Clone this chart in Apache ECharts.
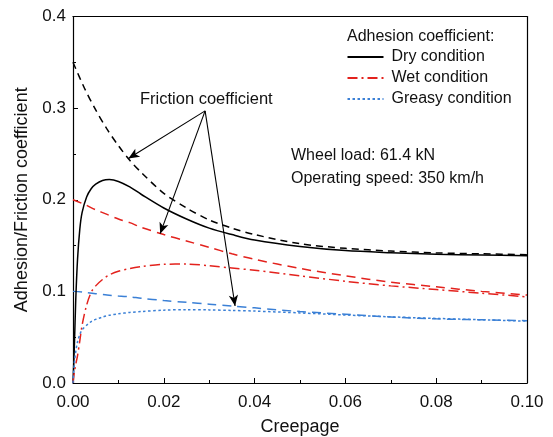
<!DOCTYPE html>
<html>
<head>
<meta charset="utf-8">
<script src="https://cdn.jsdelivr.net/npm/echarts@6/dist/echarts.min.js"></script>
<style>
html,body{margin:0;padding:0;background:#fff;}
#chart{width:553px;height:437px;}
</style>
</head>
<body>
<div id="chart"></div>
<script>
// ---- Data ----
const creepageFriction = [0, 0.0025, 0.005, 0.0075, 0.01, 0.0125, 0.015, 0.02, 0.025, 0.03, 0.035, 0.04, 0.05, 0.06, 0.07, 0.08, 0.09, 0.1];
const dryFriction    = [0.350, 0.322, 0.298, 0.277, 0.259, 0.243, 0.230, 0.207, 0.191, 0.178, 0.169, 0.162, 0.152, 0.147, 0.144, 0.142, 0.141, 0.140];
const wetFriction    = [0.200, 0.195, 0.189, 0.184, 0.179, 0.175, 0.170, 0.162, 0.155, 0.148, 0.141, 0.135, 0.125, 0.117, 0.110, 0.105, 0.100, 0.096];
const greasyFriction = [0.100, 0.099, 0.0975, 0.096, 0.095, 0.094, 0.0925, 0.090, 0.088, 0.086, 0.084, 0.082, 0.078, 0.075, 0.072, 0.070, 0.069, 0.068];

const creepageAdhesion = [0, 0.0003, 0.0006, 0.001, 0.0015, 0.002, 0.003, 0.004, 0.005, 0.0065, 0.008, 0.01, 0.0125, 0.015, 0.02, 0.025, 0.03, 0.035, 0.04, 0.05, 0.06, 0.07, 0.08, 0.09, 0.1];
const dryAdhesion    = [0, 0.040, 0.090, 0.135, 0.168, 0.186, 0.203, 0.212, 0.217, 0.221, 0.222, 0.220, 0.214, 0.206, 0.191, 0.179, 0.169, 0.162, 0.156, 0.149, 0.1445, 0.1422, 0.1405, 0.1397, 0.139];
const wetAdhesion    = [0, 0.012, 0.020, 0.030, 0.046, 0.063, 0.085, 0.099, 0.106, 0.113, 0.118, 0.122, 0.125, 0.127, 0.1295, 0.1298, 0.128, 0.1255, 0.123, 0.117, 0.111, 0.106, 0.102, 0.098, 0.094];
const greasyAdhesion = [0, 0.022, 0.034, 0.045, 0.053, 0.058, 0.063, 0.067, 0.0695, 0.072, 0.074, 0.0755, 0.077, 0.078, 0.0795, 0.080, 0.0798, 0.0792, 0.0785, 0.0765, 0.0742, 0.0722, 0.0705, 0.069, 0.0675];

const legendNames = ['Dry condition', 'Wet condition', 'Greasy condition'];
const xTickLabels = ['0.00', '0.02', '0.04', '0.06', '0.08', '0.10'];
const yTickLabels = ['0.0', '0.1', '0.2', '0.3', '0.4'];

// annotation arrows: from apex to friction curves (data coords)
const arrowFrom = [0.0291, 0.297];
const arrowTargets = [[0.0122, 0.245], [0.0192, 0.163], [0.0357, 0.084]];

// ---- Chart ----
const FONT = 'Liberation Sans, Arial, sans-serif';
const TXT = '#111';
const RED = '#e3221d';
const BLUE = '#3b80d6';

const pairs = (xs, ys) => xs.map((x, i) => [x, ys[i]]);

const chart = echarts.init(document.getElementById('chart'), null, {renderer: 'canvas'});

function lineSeries(name, xs, ys, color, type, extra) {
  return Object.assign({
    name: name,
    type: 'line',
    data: pairs(xs, ys),
    showSymbol: false,
    symbol: 'none',
    symbolSize: 0,
    smooth: 0.3,
    lineStyle: {color: color, width: 1.5, type: type},
    itemStyle: {color: color},
    emphasis: {disabled: true},
    animation: false,
    z: 3
  }, extra || {});
}

const option = {
  animation: false,
  backgroundColor: '#fff',
  textStyle: {fontFamily: FONT, color: TXT},
  grid: {left: 73, right: 26, top: 16.5, bottom: 54, containLabel: false, outerBoundsMode: 'none'},
  legend: {
    data: legendNames,
    orient: 'vertical',
    left: 346.5,
    top: 49,
    padding: 0,
    itemWidth: 36,
    itemHeight: 16,
    itemGap: 5,
    selectedMode: false,
    itemStyle: {opacity: 0},
    textStyle: {fontFamily: FONT, fontSize: 16, color: TXT, lineHeight: 16, padding: [0, 0, 0, 3]}
  },
  xAxis: [{
    type: 'value',
    min: 0, max: 0.1, interval: 0.02,
    name: 'Creepage',
    nameLocation: 'middle',
    nameGap: 35,
    nameTextStyle: {fontFamily: FONT, fontSize: 18, color: TXT},
    axisLine: {show: true, onZero: false, lineStyle: {color: '#000', width: 1.2}},
    axisTick: {show: true, inside: true, length: 5, lineStyle: {color: '#000', width: 1}},
    minorTick: {show: true, splitNumber: 2, length: 3, lineStyle: {color: '#000', width: 1}},
    axisLabel: {
      margin: 11, fontFamily: FONT, fontSize: 17, color: TXT,
      formatter: v => xTickLabels[Math.round(v / 0.02)]
    },
    splitLine: {show: false}
  }, {
    type: 'value', position: 'top', min: 0, max: 0.1,
    axisLine: {show: true, onZero: false, lineStyle: {color: '#000', width: 1.2}},
    axisTick: {show: false}, axisLabel: {show: false}, splitLine: {show: false}
  }],
  yAxis: [{
    type: 'value',
    min: 0, max: 0.4, interval: 0.1,
    name: 'Adhesion/Friction coefficient',
    nameLocation: 'middle',
    nameGap: 41,
    nameTextStyle: {fontFamily: FONT, fontSize: 18, color: TXT},
    axisLine: {show: true, onZero: false, lineStyle: {color: '#000', width: 1.2}},
    axisTick: {show: true, inside: true, length: 5, lineStyle: {color: '#000', width: 1}},
    minorTick: {show: true, splitNumber: 2, length: 3, lineStyle: {color: '#000', width: 1}},
    axisLabel: {
      margin: 7, fontFamily: FONT, fontSize: 17, color: TXT,
      formatter: v => yTickLabels[Math.round(v / 0.1)]
    },
    splitLine: {show: false}
  }, {
    type: 'value', position: 'right', min: 0, max: 0.4,
    axisLine: {show: true, onZero: false, lineStyle: {color: '#000', width: 1.2}},
    axisTick: {show: false}, axisLabel: {show: false}, splitLine: {show: false}
  }],
  series: [
    lineSeries('Dry friction', creepageFriction, dryFriction, '#000', [7, 5], {
      markLine: {
        silent: true,
        animation: false,
        symbol: ['none', 'arrow'],
        symbolSize: [7, 11],
        label: {show: false},
        lineStyle: {color: '#000', width: 1.1, type: 'solid'},
        emphasis: {disabled: true},
        data: arrowTargets.map(t => [{coord: arrowFrom}, {coord: t}])
      }
    }),
    lineSeries('Wet friction', creepageFriction, wetFriction, RED, [9, 6]),
    lineSeries('Greasy friction', creepageFriction, greasyFriction, BLUE, [9, 6]),
    lineSeries('Dry condition', creepageAdhesion, dryAdhesion, '#000', 'solid'),
    lineSeries('Wet condition', creepageAdhesion, wetAdhesion, RED, [10, 4, 2, 4]),
    lineSeries('Greasy condition', creepageAdhesion, greasyAdhesion, BLUE, [2.5, 2.5])
  ],
  graphic: [
    {type: 'text', left: 347, top: 29, silent: true,
     style: {text: 'Adhesion coefficient:', font: '16px ' + FONT, fill: TXT}},
    {type: 'text', left: 291, top: 148, silent: true,
     style: {text: 'Wheel load: 61.4 kN', font: '16px ' + FONT, fill: TXT}},
    {type: 'text', left: 291, top: 171, silent: true,
     style: {text: 'Operating speed: 350 km/h', font: '16px ' + FONT, fill: TXT}},
    {type: 'text', left: 140, top: 91, silent: true,
     style: {text: 'Friction coefficient', font: '16.5px ' + FONT, fill: TXT}}
  ]
};

chart.setOption(option);
</script>
</body>
</html>
